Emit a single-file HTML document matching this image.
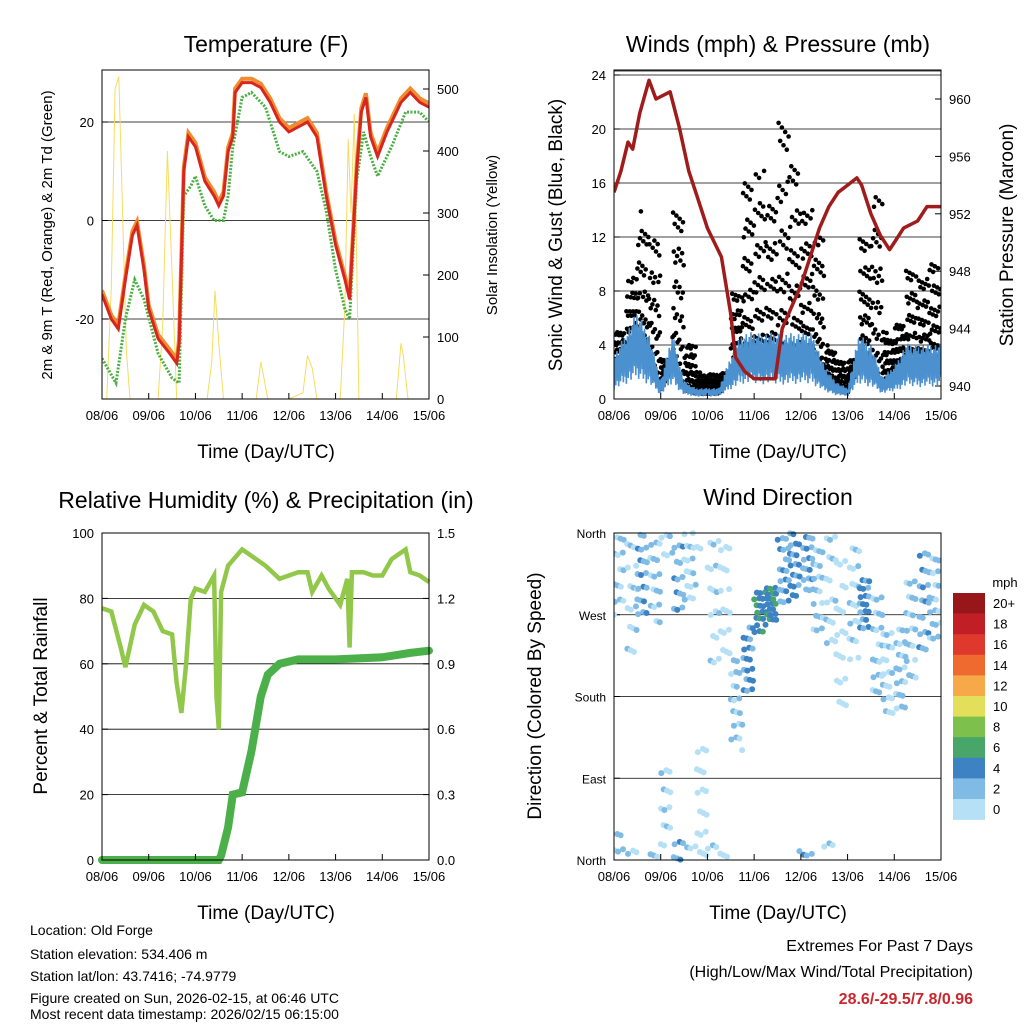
<!DOCTYPE html>
<html><head><meta charset="utf-8">
<style>
body{margin:0;background:#fff;}
svg{display:block;font-family:"Liberation Sans",sans-serif;}
</style></head>
<body>
<svg id="fig" width="1024" height="1024" viewBox="0 0 1024 1024" xmlns="http://www.w3.org/2000/svg">
<rect width="1024" height="1024" fill="#fff"/>
<text x="266" y="52" font-size="23" text-anchor="middle">Temperature (F)</text>
<text x="778" y="52" font-size="23" text-anchor="middle">Winds (mph) &amp; Pressure (mb)</text>
<text x="266" y="508" font-size="23" text-anchor="middle">Relative Humidity (%) &amp; Precipitation (in)</text>
<text x="778" y="505" font-size="23" text-anchor="middle">Wind Direction</text>
<text x="266" y="458" font-size="19" text-anchor="middle">Time (Day/UTC)</text>
<text x="778" y="458" font-size="19" text-anchor="middle">Time (Day/UTC)</text>
<text x="266" y="919" font-size="19" text-anchor="middle">Time (Day/UTC)</text>
<text x="778" y="919" font-size="19" text-anchor="middle">Time (Day/UTC)</text>
<text transform="translate(52,235) rotate(-90)" font-size="15" text-anchor="middle">2m &amp; 9m T (Red, Orange) &amp; 2m Td (Green)</text>
<text transform="translate(497,235) rotate(-90)" font-size="15" text-anchor="middle">Solar Insolation (Yellow)</text>
<text transform="translate(562,235) rotate(-90)" font-size="19" text-anchor="middle">Sonic Wind &amp; Gust (Blue, Black)</text>
<text transform="translate(1013,235) rotate(-90)" font-size="19" text-anchor="middle">Station Pressure (Maroon)</text>
<text transform="translate(47,696) rotate(-90)" font-size="19" text-anchor="middle">Percent &amp; Total Rainfall</text>
<text transform="translate(541,696) rotate(-90)" font-size="19" text-anchor="middle">Direction (Colored By Speed)</text>
<g font-size="14">
<text x="30" y="935">Location: Old Forge</text>
<text x="30" y="959">Station elevation: 534.406 m</text>
<text x="30" y="981">Station lat/lon: 43.7416; -74.9779</text>
<text x="30" y="1003">Figure created on Sun, 2026-02-15, at 06:46 UTC</text>
<text x="30" y="1019">Most recent data timestamp: 2026/02/15 06:15:00</text>
</g>
<g font-size="16" text-anchor="end">
<text x="973" y="951">Extremes For Past 7 Days</text>
<text x="973" y="977">(High/Low/Max Wind/Total Precipitation)</text>
<text x="973" y="1004" fill="#c8282d" font-weight="bold">28.6/-29.5/7.8/0.96</text>
</g>
<g id="layer"></g>
</svg>
<script>
// ---- data ----
const dayLabels = ["08/06","09/06","10/06","11/06","12/06","13/06","14/06","15/06"];
const tT = [0,0.2,0.35,0.5,0.65,0.75,0.9,1.0,1.2,1.45,1.6,1.65,1.75,1.85,2.0,2.2,2.4,2.5,2.6,2.7,2.8,2.85,3.0,3.2,3.4,3.6,3.8,4.0,4.2,4.4,4.6,4.8,5.0,5.2,5.3,5.45,5.55,5.65,5.75,5.9,6.1,6.4,6.6,6.8,7.0];
const tempT = [-15,-20,-22,-12,-3,-1,-10,-18,-24,-27,-29,-25,10,17,15,8,5,3,5,14,17,26,28,28,27,24,20,18,19,20,17,5,-5,-12,-16,10,22,25,17,13,18,24,26,24,23];
const tTd = [0,0.3,0.5,0.7,0.9,1.2,1.5,1.65,1.75,1.9,2.0,2.2,2.4,2.6,2.7,2.8,3.0,3.2,3.5,3.8,4.0,4.3,4.6,4.8,5.0,5.2,5.3,5.45,5.6,5.75,5.9,6.2,6.5,6.8,7.0];
const tempTd = [-28,-33,-20,-12,-16,-27,-32,-33,5,7,9,3,0,0,5,15,25,26,23,14,13,14,10,2,-10,-18,-20,8,18,13,9,15,22,22,20];
const tSolar = [0,0.1,0.2,0.28,0.36,0.44,0.52,0.6,1.0,1.2,1.3,1.4,1.5,1.6,2.0,2.25,2.35,2.42,2.5,2.6,3.0,3.3,3.4,3.45,3.55,4.0,4.3,4.4,4.5,4.6,5.0,5.1,5.2,5.27,5.33,5.4,5.5,6.0,6.3,6.4,6.45,6.55,7.0];
const solar = [0,0,180,500,520,300,80,0,0,0,120,400,200,0,0,0,60,175,90,0,0,0,60,40,0,0,10,70,50,0,0,0,150,420,300,460,0,0,0,90,70,0,0];
const tW = [0,0.25,0.5,0.75,1,1.25,1.5,1.75,2,2.25,2.5,2.75,3,3.25,3.5,3.75,4,4.25,4.5,4.75,5,5.25,5.5,5.75,6,6.25,6.5,6.75];
const gust = [5,9,14,13,3,14,4,2,2,2,8,16,17,16,22,18,14,12,4,3,3,12,15,5,6,10,9,10];
const wind = [2,3,4,3,0.8,3,0.8,0.5,0.5,0.5,2,3,3,3,3,3,3,3,1.5,0.8,0.5,3,2.5,1,1.5,2.5,2.5,2.5];
const tP = [0,0.15,0.3,0.4,0.55,0.75,0.9,1.2,1.4,1.6,1.8,2.0,2.3,2.5,2.6,2.8,3.0,3.3,3.45,3.6,3.8,4.0,4.2,4.4,4.6,4.8,5.0,5.2,5.3,5.5,5.7,5.9,6.0,6.2,6.5,6.7,6.9,7.0];
const pressure = [953.5,955,957,956.5,959,961.3,960,960.5,958,955,953,951,949,945,942,941,940.5,940.5,940.5,944,945.5,947,949,951,952.5,953.5,954,954.5,954,952,950.5,949.5,950,951,951.5,952.5,952.5,952.5];
const tRH = [0,0.2,0.4,0.5,0.7,0.9,1.1,1.3,1.5,1.6,1.7,1.8,1.9,2.0,2.2,2.4,2.45,2.5,2.55,2.7,3.0,3.3,3.5,3.8,4.0,4.2,4.4,4.5,4.7,4.85,5.0,5.1,5.25,5.3,5.35,5.6,5.8,6.0,6.2,6.5,6.6,6.8,7.0];
const rh = [77,76,65,59,72,78,76,70,69,54,45,60,80,83,82,87,50,40,82,90,95,92,90,86,87,88,88,82,87,83,80,78,86,65,88,88,87,87,92,95,88,87,85];
const tPr = [0,2.5,2.55,2.7,2.8,3.0,3.2,3.4,3.55,3.8,4.2,5.0,6.0,6.6,7.0];
const precip = [0,0,0.02,0.15,0.3,0.31,0.5,0.75,0.85,0.9,0.92,0.92,0.93,0.95,0.96];
const tD = [0,0.25,0.5,0.75,1,1.25,1.5,1.75,2,2.25,2.5,2.75,3,3.25,3.5,3.75,4,4.25,4.5,4.75,5,5.25,5.5,5.75,6,6.25,6.5,6.75];
const dirMid = [330,300,320,310,40,320,330,60,290,300,170,220,275,280,320,330,330,300,300,250,290,280,240,200,210,260,280,290];
const dirSpread = [60,80,50,60,70,60,50,80,90,80,50,40,25,20,40,40,40,50,80,90,70,30,60,50,50,60,60,50];
const dirSpeed = [2,1,3,2,1,3,1,0,1,0,2,4,5,5,3,4,3,2,1,0,1,4,2,1,2,2,3,2];
const speedBins = ["0","2","4","6","8","10","12","14","16","18","20+"];
const speedColors = ["#b5e0f6","#7fbbe5","#3d83c4","#48a66b","#7dc04b","#e4df5b","#f7a849","#ee6a2e","#df382c","#c11e25","#981519"];

// ---- helpers ----
const NS="http://www.w3.org/2000/svg";
const layer=document.getElementById('layer');
function mk(tag,attrs,parent){const e=document.createElementNS(NS,tag);for(const k in attrs)e.setAttribute(k,attrs[k]);(parent||layer).appendChild(e);return e;}
function lin(d0,d1,r0,r1){return v=>r0+(v-d0)/(d1-d0)*(r1-r0);}
function interp(ts,vs,t){if(t<=ts[0])return vs[0];for(let i=1;i<ts.length;i++){if(t<=ts[i]){const f=(t-ts[i-1])/(ts[i]-ts[i-1]);return vs[i-1]+f*(vs[i]-vs[i-1]);}}return vs[vs.length-1];}
function path(ts,vs,xs,ys){return ts.map((t,i)=>(i?'L':'M')+xs(t).toFixed(1)+','+ys(vs[i]).toFixed(1)).join('');}
function fr(x){return x-Math.floor(x);}

function frame(x0,y0,x1,y1,name){
  const r=mk('rect',{x:x0,y:y0,width:x1-x0,height:y1-y0,fill:'none',stroke:'#000','stroke-width':1});
  
  
}
function xAxis(x0,x1,yb,name){
  const xs=lin(0,7,x0,x1);
  dayLabels.forEach((l,i)=>{
    const tk=mk('line',{x1:xs(i),x2:xs(i),y1:yb,y2:yb-6,stroke:'#000'});
    
    
    const t=mk('text',{x:xs(i),y:yb+21,'font-size':13,'text-anchor':'middle'});t.textContent=l;
    
    
  });
  return xs;
}
function yAxis(vals,labels,ys,x0,x1,side,grid,name,fs){
  vals.forEach((v,i)=>{
    const y=ys(v);
    if(grid){const g=mk('line',{x1:x0,x2:x1,y1:y,y2:y,stroke:'#000','stroke-width':0.8});
      
      }
    const xe=side==='left'?x0:x1;
    const tk=mk('line',{x1:xe,x2:side==='left'?xe+6:xe-6,y1:y,y2:y,stroke:'#000'});
    
    
    const t=mk('text',{x:side==='left'?x0-8:x1+8,y:y+5,'font-size':fs||13,'text-anchor':side==='left'?'end':'start'});
    t.textContent=labels[i];
    
    
  });
}

// ---- Panel 1: temperature ----
(function(){
  const X0=102,X1=429,Y0=70,Y1=399;
  const xs=lin(0,7,X0,X1);
  const yT=lin(-20,20,319,122);
  const yS=lin(0,500,399,89);
  const clip=mk('clipPath',{id:'c1'});mk('rect',{x:X0,y:Y0,width:X1-X0,height:Y1-Y0},clip);
  yAxis([-20,0,20],["-20","0","20"],yT,X0,X1,'left',true,'temp-y');
  yAxis([0,100,200,300,400,500],["0","100","200","300","400","500"],yS,X0,X1,'right',false,'solar-y');
  const g=mk('g',{'clip-path':'url(#c1)'});
  const s=mk('path',{d:path(tSolar,solar,xs,yS),fill:'none',stroke:'#f5dc60','stroke-width':1},g);
  
  
  const d=mk('path',{d:path(tTd,tempTd,xs,yT),fill:'none',stroke:'#4bb043','stroke-width':3,'stroke-dasharray':'2,1.5'},g);
  
  
  const o=mk('path',{d:path(tT,tempT.map(v=>v+0.8),xs,yT),fill:'none',stroke:'#f08c30','stroke-width':4},g);
  
  
  const r=mk('path',{d:path(tT,tempT,xs,yT),fill:'none',stroke:'#d7261e','stroke-width':3},g);
  
  
  xAxis(X0,X1,Y1,'temp-x');
  frame(X0,Y0,X1,Y1,'temp-plot-frame');
})();

// ---- Panel 2: winds ----
(function(){
  const X0=614,X1=941,Y0=70,Y1=399;
  const xs=lin(0,7,X0,X1);
  const yW=lin(0,24,399,75);
  const yP=lin(940,960,386,99);
  const clip=mk('clipPath',{id:'c2'});mk('rect',{x:X0,y:Y0,width:X1-X0,height:Y1-Y0},clip);
  yAxis([0,4,8,12,16,20,24],["0","4","8","12","16","20","24"],yW,X0,X1,'left',true,'wind-y');
  yAxis([940,944,948,952,956,960],["940","944","948","952","956","960"],yP,X0,X1,'right',false,'pressure-y');
  const g=mk('g',{'clip-path':'url(#c2)'});
  // black gust dots
  const dots=mk('g',{fill:'#000'},g);
  
  
  tW.forEach((t0,k)=>{
    const n=45;
    for(let i=0;i<n;i++){const t=t0+0.25*fr(i*0.7548777+k*0.31);const f=fr(i*0.5698403+k*0.17);
      const lo=interp(tW,wind,t)*0.8,hi=gust[k];
      const v=lo+(hi-lo)*Math.pow(f,1.6);
      mk('circle',{cx:xs(t).toFixed(1),cy:yW(v).toFixed(1),r:2.3},dots);}
  });
  // blue sonic wind: jagged trace around mean
  let dd='';const N=900;
  for(let i=0;i<=N;i++){const t=7*i/N;const m=interp(tW,wind,t);const v=Math.max(0,m*(0.35+1.3*fr(i*0.618034)));dd+=(i?'L':'M')+xs(t).toFixed(1)+','+yW(v).toFixed(1);}
  const b=mk('path',{d:dd,fill:'none',stroke:'#4b90cf','stroke-width':1.6},g);
  
  
  const p=mk('path',{d:path(tP,pressure,xs,yP),fill:'none',stroke:'#a01c1c','stroke-width':3.5,'stroke-linejoin':'round'},g);
  
  
  mk('line',{x1:X0,x2:X1,y1:71,y2:71,stroke:'#000','stroke-width':0.8});
  xAxis(X0,X1,Y1,'wind-x');
  frame(X0,Y0,X1,Y1,'wind-plot-frame');
})();

// ---- Panel 3: RH & precip ----
(function(){
  const X0=102,X1=429,Y0=533,Y1=860;
  const xs=lin(0,7,X0,X1);
  const yR=lin(0,100,860,533);
  const yPr=lin(0,1.5,860,533);
  const clip=mk('clipPath',{id:'c3'});mk('rect',{x:X0-5,y:Y0,width:X1-X0+10,height:Y1-Y0+5},clip);
  yAxis([0,20,40,60,80,100],["0","20","40","60","80","100"],yR,X0,X1,'left',true,'rh-y');
  yAxis([0,0.3,0.6,0.9,1.2,1.5],["0.0","0.3","0.6","0.9","1.2","1.5"],yPr,X0,X1,'right',false,'precip-y');
  const g=mk('g',{'clip-path':'url(#c3)'});
  const r=mk('path',{d:path(tRH,rh,xs,yR),fill:'none',stroke:'#92c84a','stroke-width':4.5},g);
  
  
  const p=mk('path',{d:path(tPr,precip,xs,yPr),fill:'none',stroke:'#4cb04a','stroke-width':8,'stroke-linecap':'round'},g);
  
  
  xAxis(X0,X1,Y1,'rh-x');
  frame(X0,Y0,X1,Y1,'rh-plot-frame');
})();

// ---- Panel 4: wind direction ----
(function(){
  const X0=614,X1=941,Y0=533,Y1=860;
  const xs=lin(0,7,X0,X1);
  const yD=lin(0,360,860,533);
  const clip=mk('clipPath',{id:'c4'});mk('rect',{x:X0,y:Y0-3,width:X1-X0,height:Y1-Y0+6},clip);
  yAxis([0,90,180,270,360],["North","East","South","West","North"],yD,X0,X1,'left',true,'dir-y',12);
  const g=mk('g',{'clip-path':'url(#c4)'});
  
  
  tD.forEach((t0,k)=>{
    const n=20;
    for(let i=0;i<n;i++){
      const t=t0+0.25*fr(i*0.7548777+k*0.37);
      const f=fr(i*0.5698403+k*0.23)-0.5;
      let d=dirMid[k]+f*2*dirSpread[k];
      d=((d%360)+360)%360;
      const sp=Math.max(0,Math.min(10,dirSpeed[k]+((i%3)-1)));
      const ci=Math.min(10,Math.floor(sp/2));
      mk('circle',{cx:xs(t).toFixed(1),cy:yD(d).toFixed(1),r:3,fill:speedColors[ci]},g);
    }
  });
  xAxis(X0,X1,Y1,'dir-x');
  frame(X0,Y0,X1,Y1,'dir-plot-frame');
  // colorbar
  const cb=mk('g',{});
  
  
  const bx=953,top=593,h=20.6;
  const ttl=mk('text',{x:1005,y:587,'font-size':13,'text-anchor':'middle'},cb);ttl.textContent='mph';
  for(let i=0;i<11;i++){
    const ci=10-i;
    const r=mk('rect',{x:bx,y:top+i*h,width:32,height:h+0.3,fill:speedColors[ci]},cb);
    
    
    const t=mk('text',{x:993,y:top+i*h+15,'font-size':13},cb);
    t.textContent=speedBins[ci];
  }
})();
</script>
</body></html>
